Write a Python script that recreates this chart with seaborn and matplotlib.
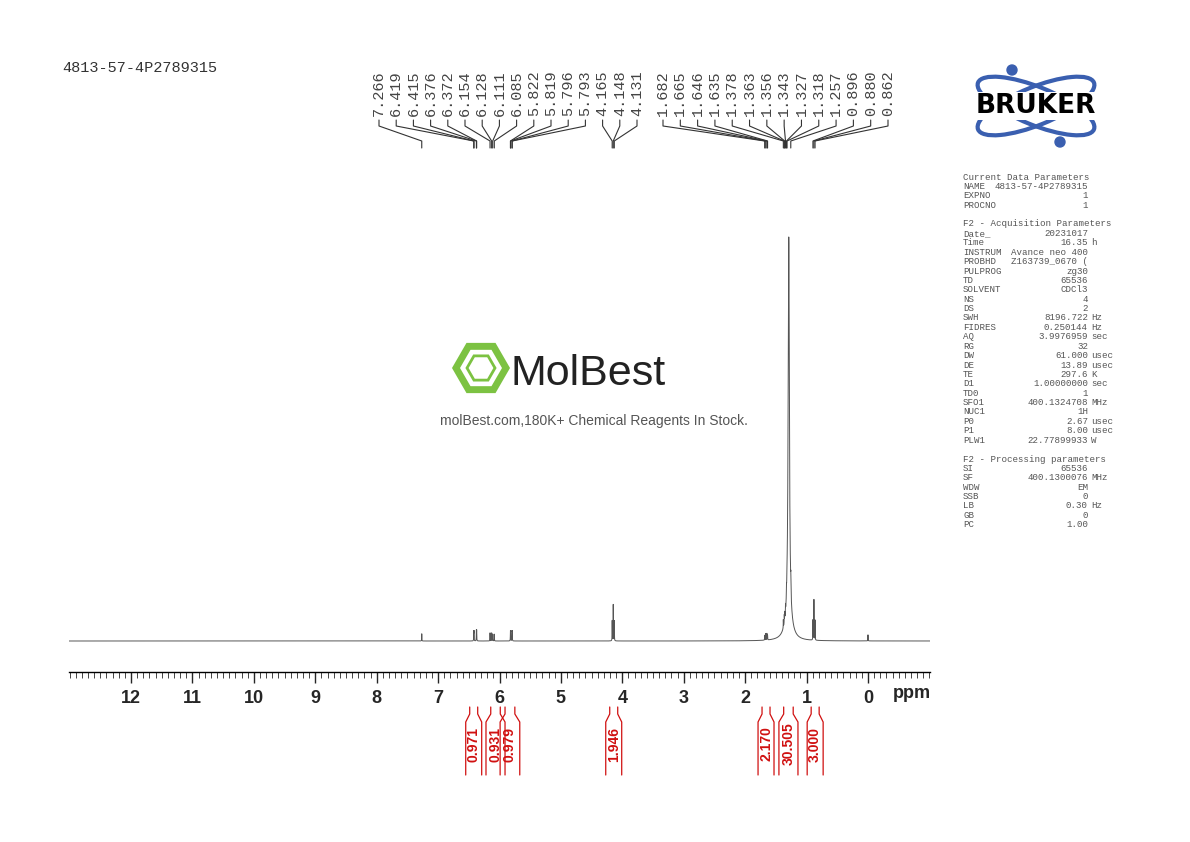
import matplotlib
matplotlib.use("Agg")
import matplotlib.pyplot as plt
import matplotlib.transforms as mtrans
from matplotlib.patches import Ellipse, RegularPolygon
import seaborn as sns
import numpy as np

sns.set_style("white")

# ---- data ----
peak_ppm = [7.266, 6.419, 6.415, 6.376, 6.372, 6.154, 6.128, 6.111, 6.085,
            5.822, 5.819, 5.796, 5.793, 4.165, 4.148, 4.131,
            1.682, 1.665, 1.646, 1.635, 1.378, 1.363, 1.356, 1.343, 1.327,
            1.318, 1.257, 0.896, 0.880, 0.862]
peak_h = [0.018, 0.022, 0.022, 0.024, 0.024, 0.02, 0.02, 0.017, 0.017,
          0.02, 0.02, 0.02, 0.02, 0.05, 0.09, 0.05,
          0.012, 0.016, 0.016, 0.012, 0.02, 0.02, 0.02, 0.02, 0.02,
          0.02, 0.03, 0.05, 0.10, 0.05]
label_ppm = [7.266, 6.419, 6.415, 6.376, 6.372, 6.154, 6.128, 6.111, 6.085,
             5.822, 5.819, 5.796, 5.793, 4.165, 4.148, 4.131,
             1.682, 1.665, 1.646, 1.635, 1.378, 1.363, 1.356, 1.343, 1.327,
             1.318, 1.257, 0.896, 0.880, 0.862]
broad_ppm = [1.29, 1.29, 0.0]
broad_h = [0.96, 0.04, 0.015]
broad_w = [0.012, 0.07, 0.002]

int_lo = [6.29, 5.91, 5.67, 4.01, 1.53, 1.14, 0.73]
int_hi = [6.55, 6.22, 5.99, 4.27, 1.79, 1.45, 0.99]
int_val = ["0.971", "0.931", "0.979", "1.946", "2.170", "30.505", "3.000"]

params = [
    ("Current Data Parameters", "", ""), ("NAME", "4813-57-4P2789315", ""),
    ("EXPNO", "1", ""), ("PROCNO", "1", ""), ("", "", ""),
    ("F2 - Acquisition Parameters", "", ""), ("Date_", "20231017", ""),
    ("Time", "16.35", "h"), ("INSTRUM", "Avance neo 400", ""),
    ("PROBHD", "Z163739_0670 (", ""), ("PULPROG", "zg30", ""),
    ("TD", "65536", ""), ("SOLVENT", "CDCl3", ""), ("NS", "4", ""),
    ("DS", "2", ""), ("SWH", "8196.722", "Hz"), ("FIDRES", "0.250144", "Hz"),
    ("AQ", "3.9976959", "sec"), ("RG", "32", ""), ("DW", "61.000", "usec"),
    ("DE", "13.89", "usec"), ("TE", "297.6", "K"), ("D1", "1.00000000", "sec"),
    ("TD0", "1", ""), ("SFO1", "400.1324708", "MHz"), ("NUC1", "1H", ""),
    ("P0", "2.67", "usec"), ("P1", "8.00", "usec"), ("PLW1", "22.77899933", "W"),
    ("", "", ""), ("F2 - Processing parameters", "", ""), ("SI", "65536", ""),
    ("SF", "400.1300076", "MHz"), ("WDW", "EM", ""), ("SSB", "0", ""),
    ("LB", "0.30", "Hz"), ("GB", "0", ""), ("PC", "1.00", ""),
]

W, H = 1190, 842
fig = plt.figure(figsize=(W / 100, H / 100), dpi=100)
ov = fig.add_axes([0, 0, 1, 1])
ov.set_xlim(0, W)
ov.set_ylim(H, 0)
ov.axis("off")

# spectrum axes
ax = fig.add_axes([69 / W, 1 - 672 / H, (930 - 69) / W, (672 - 230) / H])
ax.patch.set_visible(False)
x = np.linspace(13.01, -1.01, 30000)
y = np.zeros_like(x)
for p, h in zip(peak_ppm, peak_h):
    g = 0.0018
    y += h * g**2 / ((x - p) ** 2 + g**2)
for p, h, g in zip(broad_ppm, broad_h, broad_w):
    y += h * g**2 / ((x - p) ** 2 + g**2)
sns.lineplot(x=x, y=y, ax=ax, color="#555555", lw=0.7, estimator=None, sort=False)
ax.set_xlim(13.01, -1.01)
ax.set_ylim(-31 / 404, 411 / 404)
for s in ["top", "left", "right"]:
    ax.spines[s].set_visible(False)
ax.spines["bottom"].set_color("black")
ax.spines["bottom"].set_linewidth(1.0)
ax.set_yticks([])
ax.set_xticks(range(0, 13))
ax.set_xticks(np.arange(-1.0, 13.01, 0.1), minor=True)
ax.tick_params(axis="x", which="major", direction="out", length=8, width=1,
               labelsize=13, pad=5, bottom=True)
ax.tick_params(axis="x", which="minor", direction="out", length=4, width=0.6, bottom=True)
for t in ax.get_xticklabels():
    t.set_fontweight("bold")
    t.set_family("Liberation Sans")
ov.text(912, 693, "ppm", fontsize=13, fontweight="bold", ha="center", va="center",
        family="Liberation Sans")

# peak labels with leader lines
n1 = 16
xs = list(np.linspace(379, 637, n1)) + list(np.linspace(663, 888, len(label_ppm) - n1))
for tx, p in zip(xs, label_ppm):
    ov.text(tx, 70, f"{p:.3f}", rotation=90, ha="center", va="top",
            family="Liberation Mono", fontsize=11, color="#444444")
    px = ov.transData.inverted().transform(ax.transData.transform((p, 0)))[0]
    ov.plot([tx, tx, px, px], [120, 126, 141, 148], color="#333333", lw=0.8)

# integrals
bt = mtrans.blended_transform_factory(ax.transData, ov.transData)
for lo, hi, v in zip(int_lo, int_hi, int_val):
    mid = (lo + hi) / 2
    for e in (lo, hi):
        inner = mid + (e - mid) * 0.5
        ov.plot([e, e, inner, inner], [775, 722, 714, 707], color="#d01010", lw=0.9,
                transform=bt)
    ov.text(mid, 744, v, rotation=90, ha="center", va="center", color="#d01010",
            fontsize=10, fontweight="bold", transform=bt, family="Liberation Sans")

# header id
ov.text(62, 68, "4813-57-4P2789315", family="Liberation Mono", fontsize=11,
        color="#333333", va="center")

# parameter block
for i, (k, v, u) in enumerate(params):
    yy = 177 + i * 9.4
    kw = dict(family="Liberation Mono", fontsize=6.6, color="#555555", va="center")
    ov.text(963, yy, k, **kw)
    if v:
        ov.text(1088, yy, v, ha="right", **kw)
    if u:
        ov.text(1091, yy, u, **kw)

# Bruker logo
for ang in (22, -22):
    ov.add_patch(Ellipse((1036, 106), 125, 38, angle=ang, fill=False,
                         ec="#3a5fb0", lw=3))
for cx, cy in ((1012, 70), (1060, 142)):
    ov.add_patch(Ellipse((cx, cy), 10, 10, color="#3a5fb0"))
ov.text(1036, 106, "BRUKER", fontsize=19, fontweight="heavy", ha="center", va="center",
        color="black", family="DejaVu Sans", bbox=dict(fc="white", ec="none", pad=0.5))

# watermark
ov.add_patch(RegularPolygon((481, 368), 6, radius=25, orientation=np.pi / 6,
                            fill=False, ec="#7cc242", lw=5))
ov.add_patch(RegularPolygon((481, 368), 6, radius=14, orientation=np.pi / 6,
                            fill=False, ec="#7cc242", lw=2))
ov.text(510, 374, "MolBest", fontsize=31, ha="left", va="center", color="#222222",
        family="Liberation Sans")
ov.text(594, 421, "molBest.com,180K+ Chemical Reagents In Stock.", fontsize=10,
        ha="center", va="center", color="#555555", family="Liberation Sans")

fig.savefig("out.png", dpi=100)
